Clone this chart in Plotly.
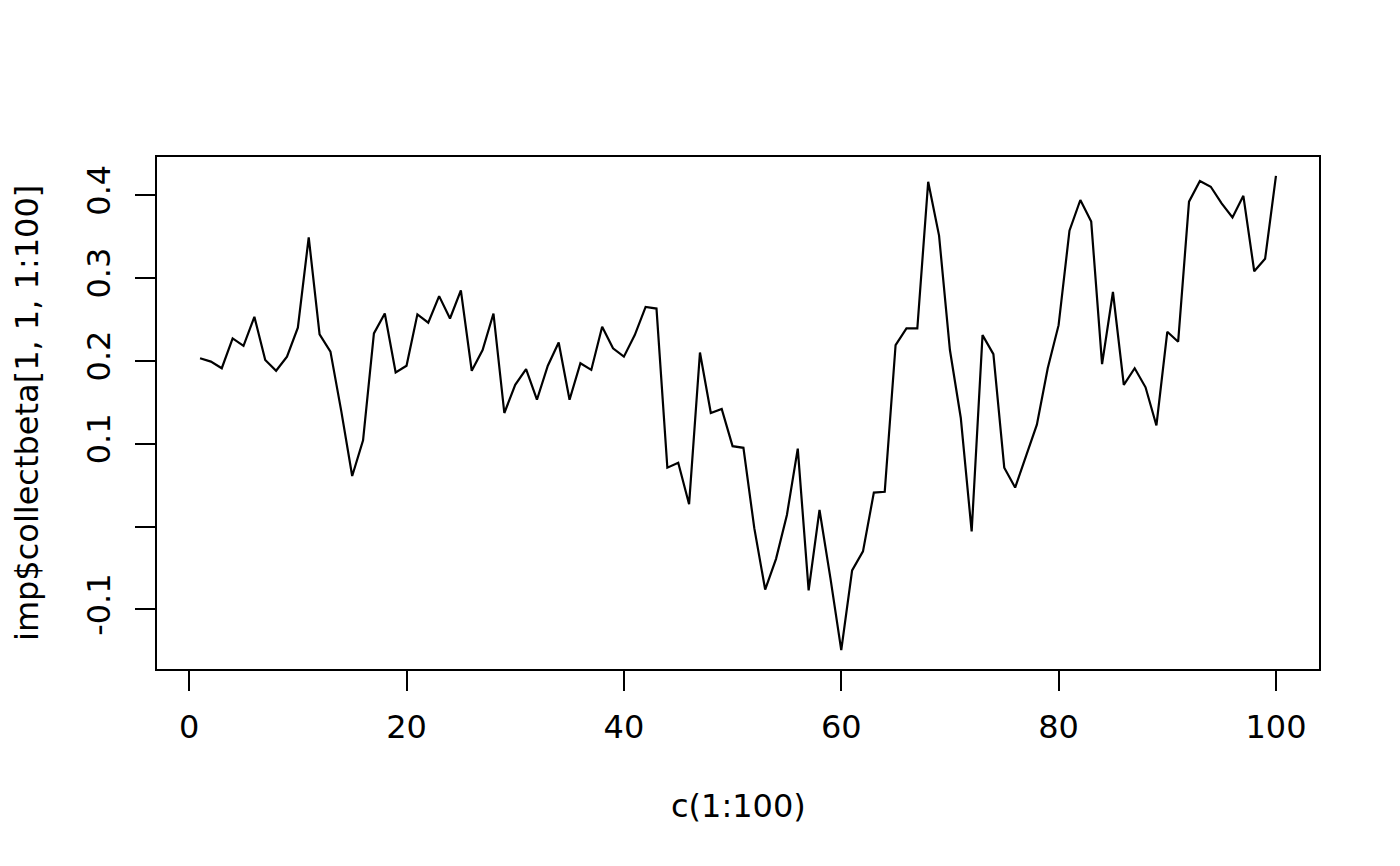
import plotly.graph_objects as go

x_values = list(range(1, 101))
beta_values = [
    0.203, 0.199, 0.191, 0.227, 0.218, 0.253, 0.201, 0.188, 0.205, 0.240,
    0.349, 0.232, 0.211, 0.139, 0.061, 0.104, 0.233, 0.257, 0.186, 0.194,
    0.256, 0.246, 0.278, 0.251, 0.285, 0.188, 0.213, 0.257, 0.137, 0.171,
    0.190, 0.153, 0.194, 0.222, 0.153, 0.197, 0.189, 0.241, 0.215, 0.205,
    0.231, 0.265, 0.263, 0.071, 0.077, 0.027, 0.210, 0.137, 0.142, 0.097,
    0.095, -0.002, -0.076, -0.039, 0.014, 0.094, -0.077, 0.020, -0.062, -0.149,
    -0.053, -0.030, 0.041, 0.042, 0.219, 0.239, 0.239, 0.416, 0.351, 0.213,
    0.131, -0.006, 0.231, 0.208, 0.071, 0.047, 0.085, 0.123, 0.191, 0.243,
    0.357, 0.394, 0.368, 0.196, 0.283, 0.171, 0.191, 0.168, 0.122, 0.235,
    0.223, 0.392, 0.417, 0.410, 0.390, 0.373, 0.399, 0.308, 0.323, 0.423,
]
x_ticks = [0, 20, 40, 60, 80, 100]
y_ticks = [-0.1, 0.0, 0.1, 0.2, 0.3, 0.4]
y_tick_labels = ["-0.1", "", "0.1", "0.2", "0.3", "0.4"]
x_label = "c(1:100)"
y_label = "imp$collectbeta[1, 1, 1:100]"


def r_range(vals):
    lo, hi = min(vals), max(vals)
    pad = 0.04 * (hi - lo)
    return [lo - pad, hi + pad]


FONT = "DejaVu Sans"
FS = 32
OFF = 8  # page offset of the plot div

fig = go.Figure()
fig.add_trace(go.Scatter(
    x=x_values, y=beta_values, mode="lines",
    line=dict(color="black", width=2.2),
    showlegend=False, hoverinfo="skip",
))

axis_common = dict(
    showgrid=False, zeroline=False, showline=True, mirror=True,
    linecolor="black", linewidth=1.6,
    ticks="outside", ticklen=20, tickwidth=1.6, tickcolor="black",
    tickfont=dict(family=FONT, size=FS, color="black"),
)

plot_h = 669 - 157
plot_w = 1319 - 157

fig.update_layout(
    width=1400, height=866,
    margin=dict(l=157 - OFF, r=81 + OFF, t=157 - OFF, b=197 + OFF),
    paper_bgcolor="white", plot_bgcolor="white",
    font=dict(family=FONT, size=FS, color="black"),
    xaxis=dict(range=r_range(x_values), tickvals=x_ticks,
               ticktext=[str(t) for t in x_ticks], ticklabelstandoff=9,
               **axis_common),
    yaxis=dict(range=r_range(beta_values), tickvals=y_ticks,
               ticktext=y_tick_labels, tickangle=-90, ticklabelstandoff=12,
               **axis_common),
    annotations=[
        dict(text=x_label, xref="paper", yref="paper", x=0.5, y=(669 - 806) / plot_h,
             xanchor="center", yanchor="middle", showarrow=False,
             font=dict(family=FONT, size=FS, color="black")),
        dict(text=y_label, xref="paper", yref="paper", x=(27 - 157) / plot_w, y=0.5,
             xanchor="center", yanchor="middle", showarrow=False, textangle=-90,
             font=dict(family=FONT, size=FS, color="black")),
    ],
)

fig.write_html("out.html")
